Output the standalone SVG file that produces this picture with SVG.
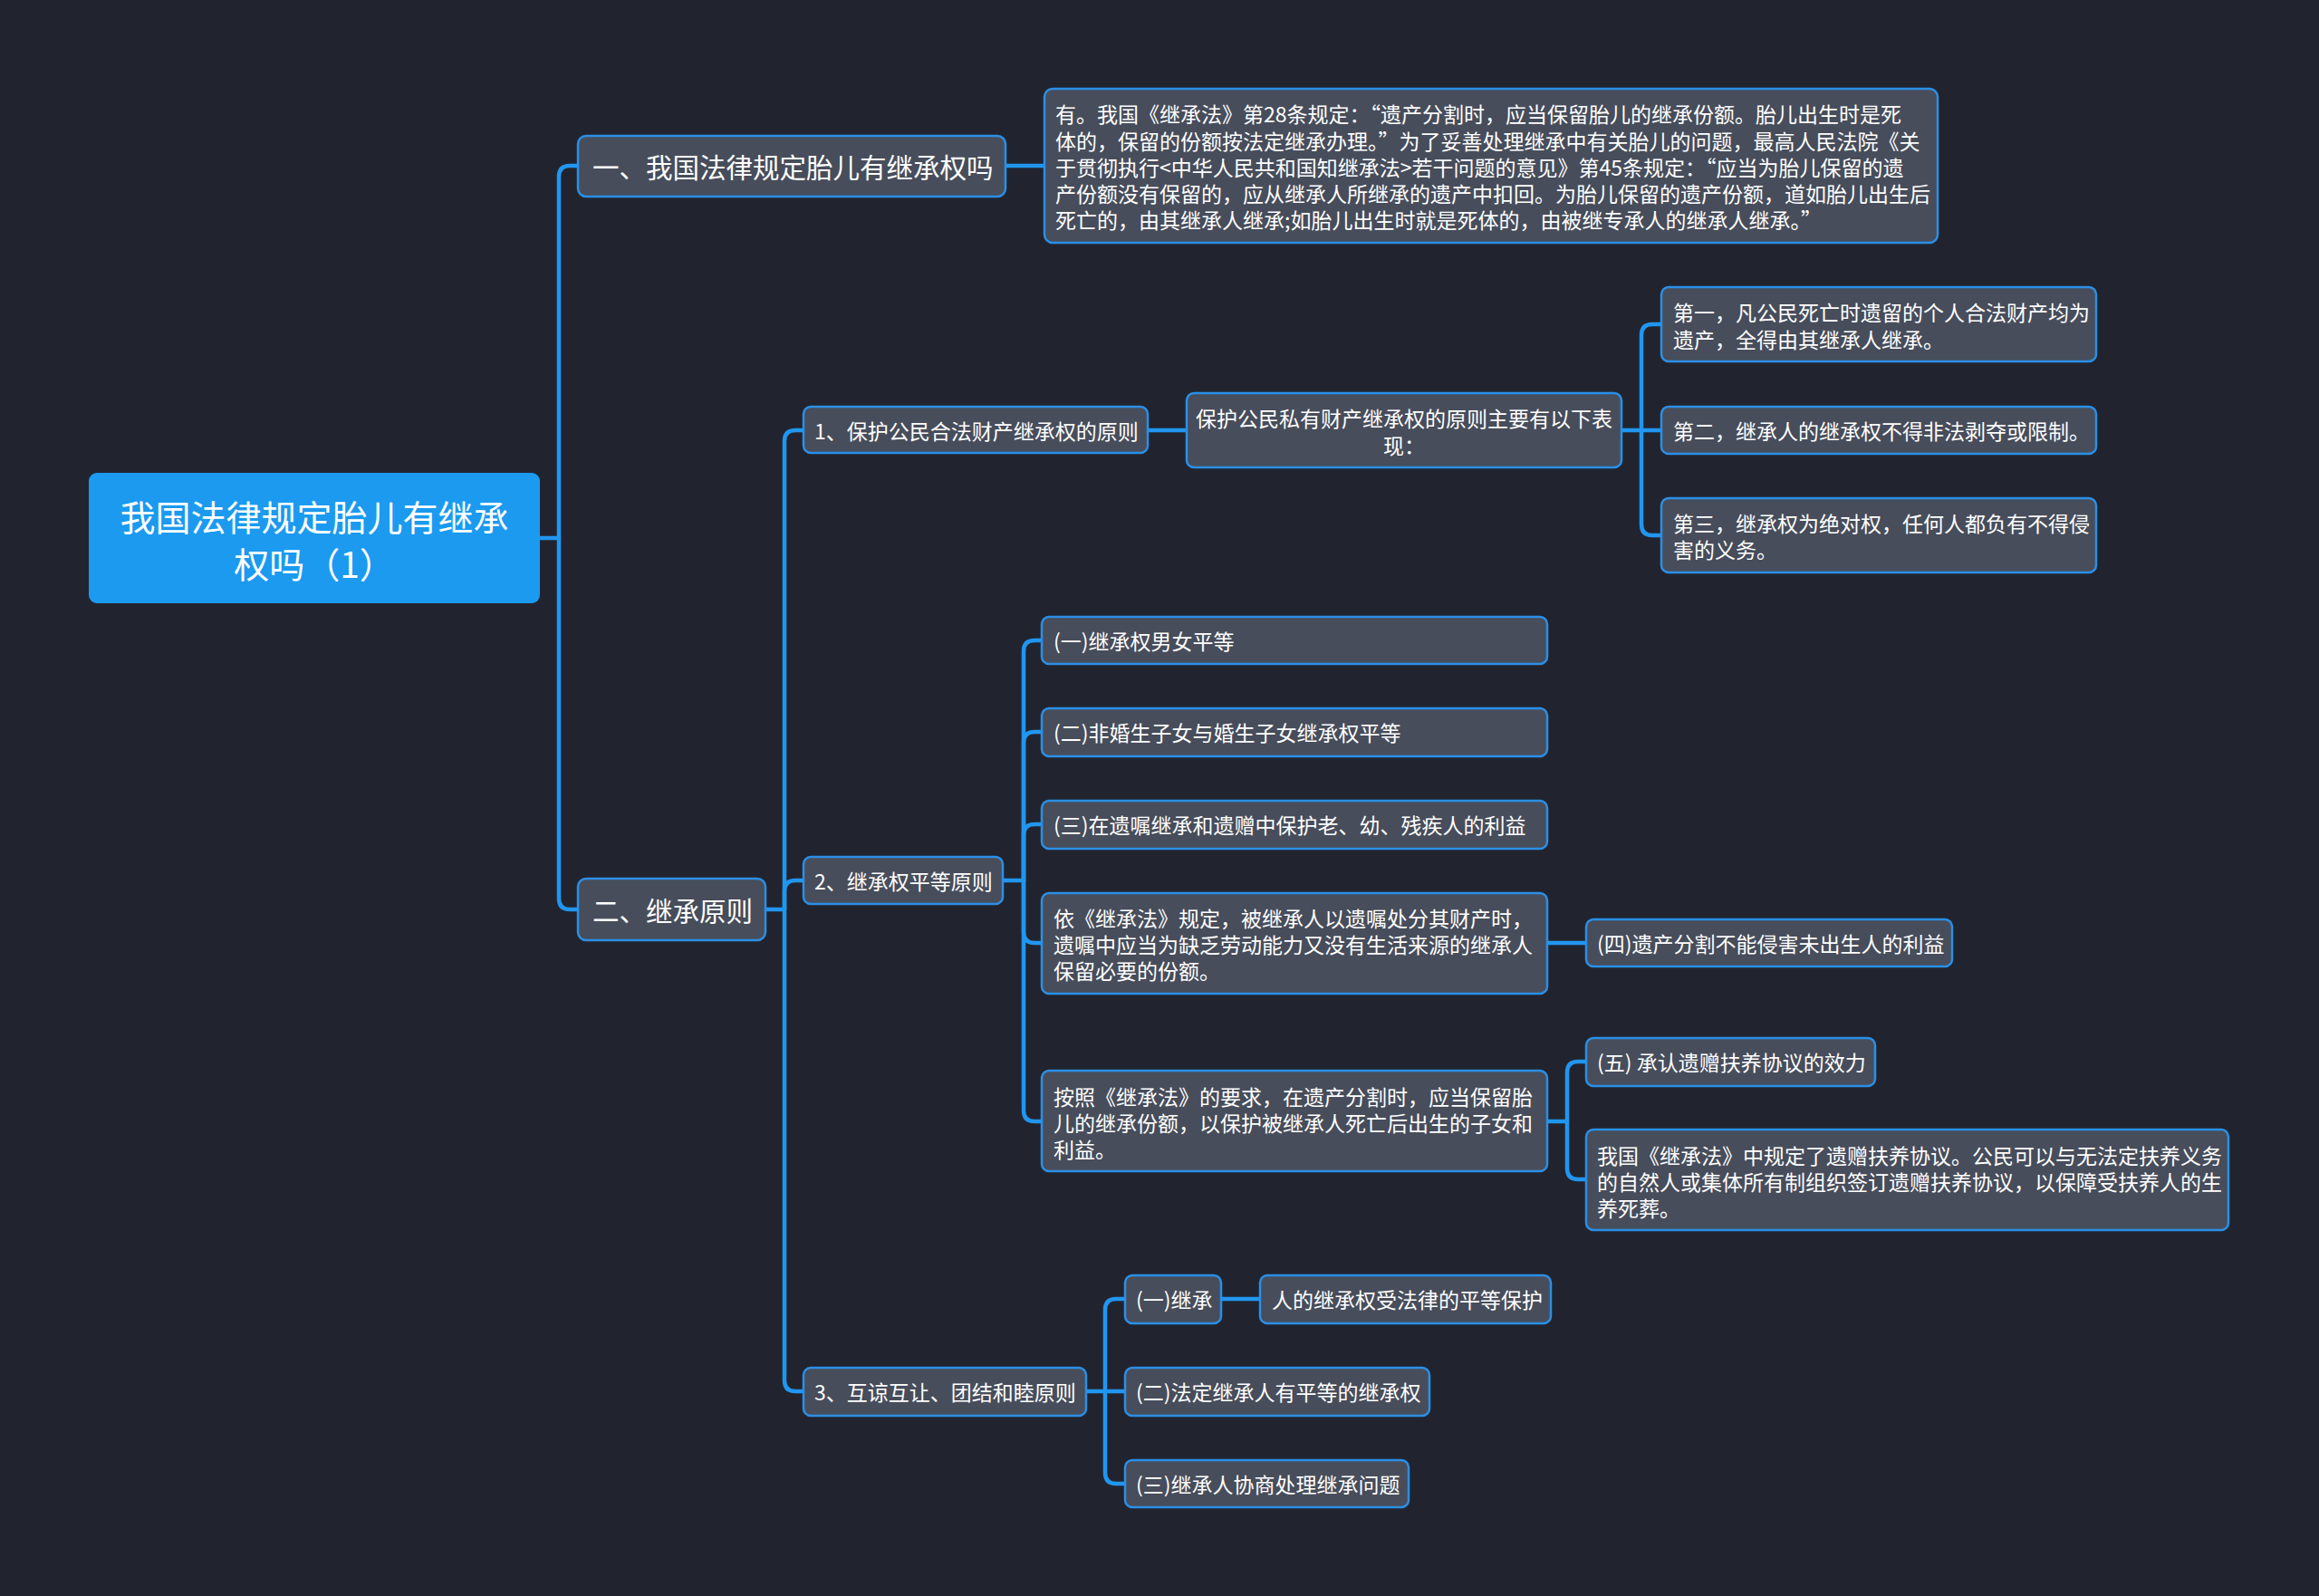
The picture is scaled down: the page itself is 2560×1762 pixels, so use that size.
<svg xmlns="http://www.w3.org/2000/svg" width="2560" height="1762" viewBox="0 0 2560 1762">
<style>
.bg{fill:#21242f}
.n{fill:#474d5b;stroke:#2b8fe6;stroke-width:2.5}
.root{fill:#1b9af0}
.c{fill:none;stroke:#2196f0;stroke-width:4.5;stroke-linecap:round;stroke-linejoin:round}
text{font-family:"Noto Sans CJK SC","Noto Sans",sans-serif;fill:#ffffff;dominant-baseline:central}
.t{font-size:23px}
.t1{font-size:29.5px}
.tr{font-size:39px;text-anchor:middle}
.tc{text-anchor:middle}
</style>
<rect class="bg" x="0" y="0" width="2560" height="1762"/>
<g id="connectors">
<path class="c" d="M596,594 H617"/>
<path class="c" d="M617,594 V195 Q617,183 629,183 H638"/>
<path class="c" d="M617,594 V992 Q617,1004 629,1004 H638"/>
<path class="c" d="M1110,183 H1153"/>
<path class="c" d="M845,1004 H866"/>
<path class="c" d="M866,1004 V487 Q866,475 878,475 H887"/>
<path class="c" d="M866,1004 V984 Q866,972 878,972 H887"/>
<path class="c" d="M866,1004 V1524 Q866,1536 878,1536 H887"/>
<path class="c" d="M1267,475 H1310"/>
<path class="c" d="M1790,475 H1834"/>
<path class="c" d="M1812,475 V370 Q1812,358 1824,358 H1834"/>
<path class="c" d="M1812,475 V579 Q1812,591 1824,591 H1834"/>
<path class="c" d="M1107,972 H1130"/>
<path class="c" d="M1130,972 V719 Q1130,707 1142,707 H1150"/>
<path class="c" d="M1130,972 V820 Q1130,808 1142,808 H1150"/>
<path class="c" d="M1130,972 V922 Q1130,910 1142,910 H1150"/>
<path class="c" d="M1130,972 V1029 Q1130,1041 1142,1041 H1150"/>
<path class="c" d="M1130,972 V1226 Q1130,1238 1142,1238 H1150"/>
<path class="c" d="M1707,1041 H1751"/>
<path class="c" d="M1707,1238 H1730"/>
<path class="c" d="M1730,1238 V1184 Q1730,1172 1742,1172 H1751"/>
<path class="c" d="M1730,1238 V1290 Q1730,1302 1742,1302 H1751"/>
<path class="c" d="M1199,1536 H1242"/>
<path class="c" d="M1220,1536 V1446 Q1220,1434 1232,1434 H1242"/>
<path class="c" d="M1220,1536 V1626 Q1220,1638 1232,1638 H1242"/>
<path class="c" d="M1348,1434 H1391"/>
</g>
<g id="root">
<rect class="root" x="98" y="522" width="498" height="144" rx="9"/>
<text class="tr" x="347" y="569">我国法律规定胎儿有继承</text>
<text class="tr" x="347" y="621">权吗（1）</text>
</g>
<g id="n-yi">
<rect class="n" x="638" y="150" width="472" height="67" rx="9"/>
<text class="t1" x="654" y="183">一、我国法律规定胎儿有继承权吗</text>
</g>
<g id="n-yi-detail">
<rect class="n" x="1153" y="98" width="986" height="170" rx="9"/>
<text class="t" x="1165" y="125">有。我国《继承法》第28条规定：“遗产分割时，应当保留胎儿的继承份额。胎儿出生时是死</text>
<text class="t" x="1165" y="155">体的，保留的份额按法定继承办理。”为了妥善处理继承中有关胎儿的问题，最高人民法院《关</text>
<text class="t" x="1165" y="184">于贯彻执行&lt;中华人民共和国知继承法&gt;若干问题的意见》第45条规定：“应当为胎儿保留的遗</text>
<text class="t" x="1165" y="213">产份额没有保留的，应从继承人所继承的遗产中扣回。为胎儿保留的遗产份额，道如胎儿出生后</text>
<text class="t" x="1165" y="242">死亡的，由其继承人继承;如胎儿出生时就是死体的，由被继专承人的继承人继承。”</text>
</g>
<g id="n-er">
<rect class="n" x="638" y="970" width="207" height="68" rx="9"/>
<text class="t1" x="654" y="1004">二、继承原则</text>
</g>
<g id="n-1">
<rect class="n" x="887" y="449" width="380" height="51" rx="8"/>
<text class="t" x="899" y="475">1、保护公民合法财产继承权的原则</text>
</g>
<g id="n-1-a">
<rect class="n" x="1310" y="434" width="480" height="82" rx="8"/>
<text class="t tc" x="1550" y="461">保护公民私有财产继承权的原则主要有以下表</text>
<text class="t tc" x="1550" y="491">现：</text>
</g>
<g id="n-1-a-1">
<rect class="n" x="1834" y="317" width="480" height="82" rx="8"/>
<text class="t" x="1847" y="344">第一，凡公民死亡时遗留的个人合法财产均为</text>
<text class="t" x="1847" y="374">遗产，全得由其继承人继承。</text>
</g>
<g id="n-1-a-2">
<rect class="n" x="1834" y="449" width="480" height="52" rx="8"/>
<text class="t" x="1847" y="475">第二，继承人的继承权不得非法剥夺或限制。</text>
</g>
<g id="n-1-a-3">
<rect class="n" x="1834" y="550" width="480" height="82" rx="8"/>
<text class="t" x="1847" y="577">第三，继承权为绝对权，任何人都负有不得侵</text>
<text class="t" x="1847" y="606">害的义务。</text>
</g>
<g id="n-2">
<rect class="n" x="887" y="946" width="220" height="52" rx="8"/>
<text class="t" x="899" y="972">2、继承权平等原则</text>
</g>
<g id="n-2-1">
<rect class="n" x="1150" y="681" width="558" height="52" rx="8"/>
<text class="t" x="1163" y="707">(一)继承权男女平等</text>
</g>
<g id="n-2-2">
<rect class="n" x="1150" y="782" width="558" height="53" rx="8"/>
<text class="t" x="1163" y="808">(二)非婚生子女与婚生子女继承权平等</text>
</g>
<g id="n-2-3">
<rect class="n" x="1150" y="884" width="558" height="53" rx="8"/>
<text class="t" x="1163" y="910">(三)在遗嘱继承和遗赠中保护老、幼、残疾人的利益</text>
</g>
<g id="n-2-4">
<rect class="n" x="1150" y="986" width="558" height="111" rx="8"/>
<text class="t" x="1163" y="1013">依《继承法》规定，被继承人以遗嘱处分其财产时，</text>
<text class="t" x="1163" y="1042">遗嘱中应当为缺乏劳动能力又没有生活来源的继承人</text>
<text class="t" x="1163" y="1071">保留必要的份额。</text>
</g>
<g id="n-2-4-1">
<rect class="n" x="1751" y="1015" width="404" height="52" rx="8"/>
<text class="t" x="1763" y="1041">(四)遗产分割不能侵害未出生人的利益</text>
</g>
<g id="n-2-5">
<rect class="n" x="1150" y="1182" width="558" height="111" rx="8"/>
<text class="t" x="1163" y="1210">按照《继承法》的要求，在遗产分割时，应当保留胎</text>
<text class="t" x="1163" y="1239">儿的继承份额，以保护被继承人死亡后出生的子女和</text>
<text class="t" x="1163" y="1268">利益。</text>
</g>
<g id="n-2-5-1">
<rect class="n" x="1751" y="1146" width="319" height="53" rx="8"/>
<text class="t" x="1763" y="1172">(五) 承认遗赠扶养协议的效力</text>
</g>
<g id="n-2-5-2">
<rect class="n" x="1751" y="1247" width="709" height="111" rx="8"/>
<text class="t" x="1763" y="1275">我国《继承法》中规定了遗赠扶养协议。公民可以与无法定扶养义务</text>
<text class="t" x="1763" y="1304">的自然人或集体所有制组织签订遗赠扶养协议，以保障受扶养人的生</text>
<text class="t" x="1763" y="1333">养死葬。</text>
</g>
<g id="n-3">
<rect class="n" x="887" y="1510" width="312" height="53" rx="8"/>
<text class="t" x="899" y="1536">3、互谅互让、团结和睦原则</text>
</g>
<g id="n-3-1">
<rect class="n" x="1242" y="1408" width="106" height="53" rx="8"/>
<text class="t" x="1254" y="1434">(一)继承</text>
</g>
<g id="n-3-1-1">
<rect class="n" x="1391" y="1408" width="321" height="53" rx="8"/>
<text class="t" x="1404" y="1434">人的继承权受法律的平等保护</text>
</g>
<g id="n-3-2">
<rect class="n" x="1242" y="1510" width="336" height="53" rx="8"/>
<text class="t" x="1254" y="1536">(二)法定继承人有平等的继承权</text>
</g>
<g id="n-3-3">
<rect class="n" x="1242" y="1612" width="313" height="52" rx="8"/>
<text class="t" x="1254" y="1638">(三)继承人协商处理继承问题</text>
</g>
</svg>
